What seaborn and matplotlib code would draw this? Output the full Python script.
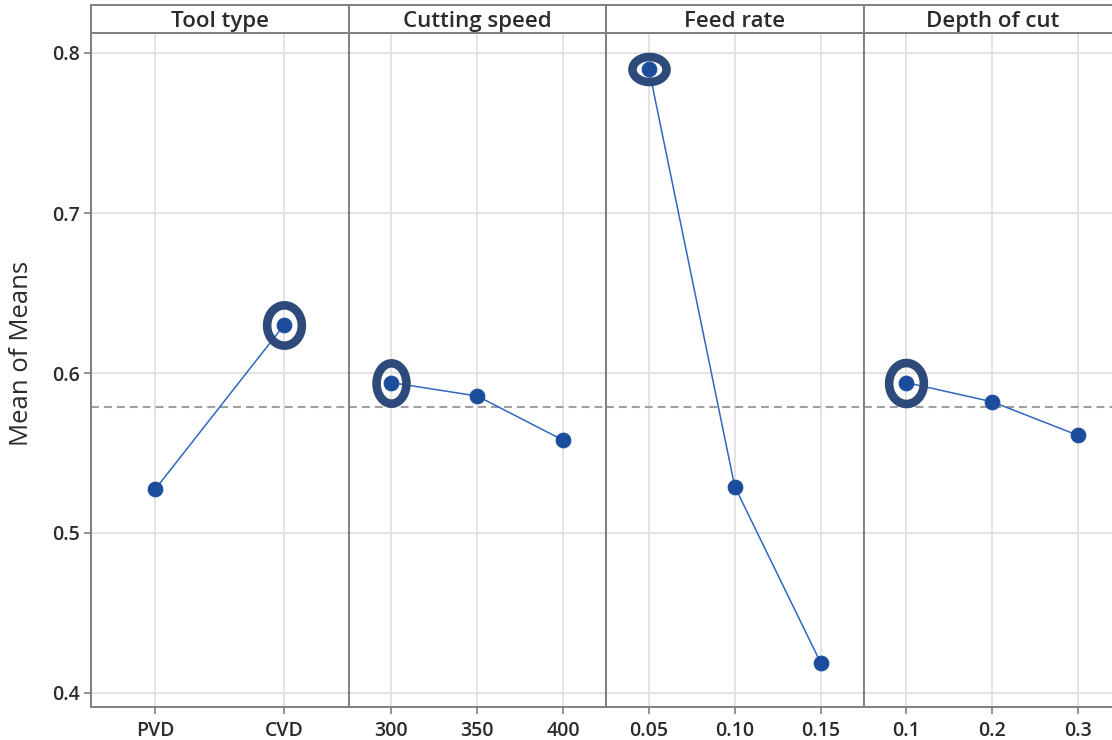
import numpy as np
import pandas as pd
import matplotlib
matplotlib.use("Agg")
import matplotlib.pyplot as plt
from matplotlib.path import Path
import seaborn as sns

# Factor names and their levels
factors = ["Tool type", "Cutting speed", "Feed rate", "Depth of cut"]
tool_levels = ["PVD", "CVD"]
speed_levels = ["300", "350", "400"]
feed_levels = ["0.05", "0.10", "0.15"]
depth_levels = ["0.1", "0.2", "0.3"]

# Mean of means at each level
tool_means = [0.5275, 0.6300]
speed_means = [0.5940, 0.5856, 0.5580]
feed_means = [0.7900, 0.5290, 0.4190]
depth_means = [0.5940, 0.5820, 0.5610]

y_ticks = [0.4, 0.5, 0.6, 0.7, 0.8]

levels = [tool_levels, speed_levels, feed_levels, depth_levels]
means = [tool_means, speed_means, feed_means, depth_means]

grand_mean = np.mean(tool_means)

sns.set_theme(style="white")
plt.rcParams["font.family"] = ["Open Sans", "DejaVu Sans"]

W, H = 1112, 740
fig = plt.figure(figsize=(W / 100, H / 100), dpi=100)

frame_col = "#7f7f7f"
grid_col = "#e3e3e3"
text_col = "#2b2b2b"
pt_col = "#1c4d9c"
line_col = "#2f68bd"
ring_col = "#2d4a7a"

left_px, panel_w = 91, 257.5
top_px, bottom_px, strip_top_px = 33, 707, 5
ylo, yhi = 0.39125, 0.8125

# ring (width, height) in points for the highest level of each factor
ring_shapes = [(25, 29), (21.5, 29), (24.5, 18), (25, 29.5)]


def ellipse_marker(w, h):
    t = np.linspace(0, 2 * np.pi, 73)
    verts = np.column_stack([w / 2 * np.cos(t), h / 2 * np.sin(t)])
    return Path(verts, closed=True)


for i, (name, lv, mv) in enumerate(zip(factors, levels, means)):
    x0 = (left_px + i * panel_w) / W
    ax = fig.add_axes([x0, 1 - bottom_px / H, panel_w / W, (bottom_px - top_px) / H])
    df = pd.DataFrame({"level": pd.Categorical(lv, categories=lv), "mean": mv})

    ax.axhline(grand_mean, color="#a0a0a0", lw=1.5, ls=(0, (3.8, 2.4)), zorder=1)
    sns.pointplot(data=df, x="level", y="mean", ax=ax, color=pt_col,
                  markers="o", markersize=10.5, linewidth=1.1, errorbar=None, zorder=3)
    ln = ax.lines[-1]
    ln.set_color(line_col)
    ln.set_markerfacecolor(pt_col)
    ln.set_markeredgecolor(pt_col)

    # highlight ring around the best level
    k = int(np.argmax(mv))
    rw, rh = ring_shapes[i]
    m = max(rw, rh)
    ax.plot([k], [mv[k]], ls="none", marker=ellipse_marker(rw, rh), markersize=m,
            markerfacecolor="none", markeredgecolor=ring_col, markeredgewidth=6.2,
            zorder=4)

    ax.set_xlim(-0.5, len(lv) - 0.5)
    ax.set_ylim(ylo, yhi)
    ax.set_yticks(y_ticks)
    ax.set_xticks(range(len(lv)))
    ax.set_xticklabels(lv)
    ax.grid(True, color=grid_col, lw=1.4)
    ax.set_axisbelow(True)
    ax.set_xlabel("")
    ax.set_ylabel("")
    for s in ax.spines.values():
        s.set_color(frame_col)
        s.set_linewidth(1.4)
    ax.tick_params(axis="x", bottom=True, length=5, width=1.2, color=frame_col,
                   labelsize=14, labelcolor=text_col, pad=5)
    for lab in ax.get_xticklabels():
        lab.set_fontweight("semibold")
    if i == 0:
        ax.tick_params(axis="y", left=True, length=5, width=1.2, color=frame_col,
                       labelsize=14, labelcolor=text_col, pad=3)
        ax.set_yticklabels([f"{v:.1f}" for v in y_ticks])
        for lab in ax.get_yticklabels():
            lab.set_fontweight("semibold")
        ax.set_ylabel("Mean of Means", fontsize=18.5, color=text_col)
        ax.yaxis.set_label_coords(-0.222, 0.525)
    else:
        ax.tick_params(axis="y", left=False, labelleft=False)

    # header strip
    sax = fig.add_axes([x0, 1 - top_px / H, panel_w / W, (top_px - strip_top_px) / H])
    sax.set_xticks([])
    sax.set_yticks([])
    sax.set_facecolor("white")
    for s in sax.spines.values():
        s.set_color(frame_col)
        s.set_linewidth(1.4)
    sax.text(0.5, 0.42, name, ha="center", va="center", fontsize=16,
             fontweight="semibold", color=text_col, transform=sax.transAxes)

fig.savefig("out.png", dpi=100)
